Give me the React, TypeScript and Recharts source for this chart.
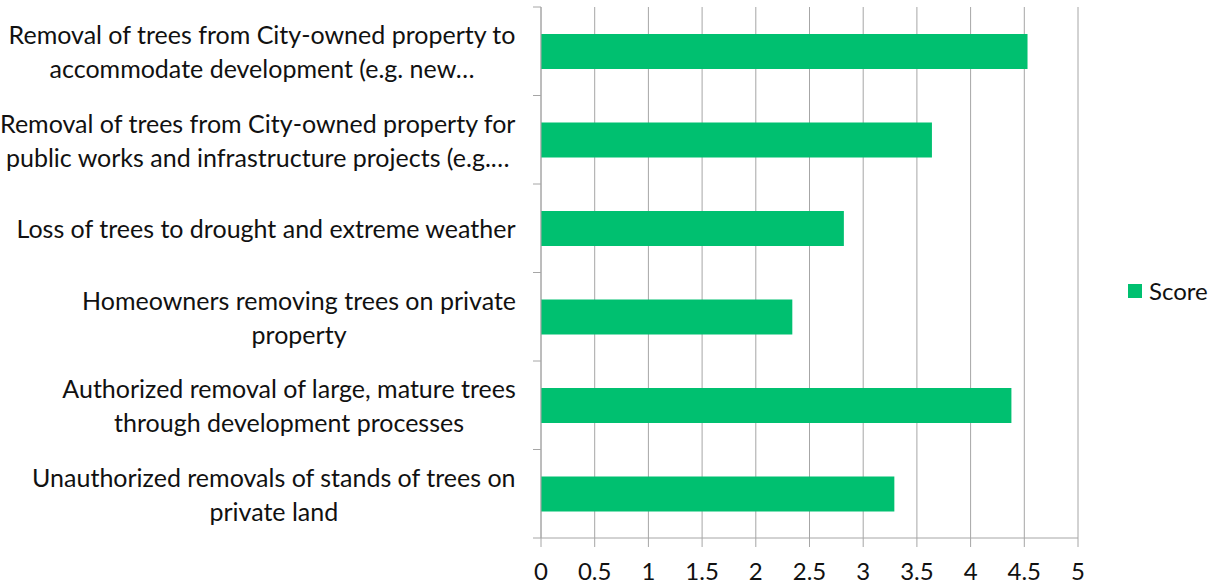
import { Bar, BarChart, CartesianGrid, XAxis, YAxis } from "recharts"

const categories = [
  "Removal of trees from City-owned property to\naccommodate development (e.g. new…",
  "Removal of trees from City-owned property for\npublic works and infrastructure projects (e.g.…",
  "Loss of trees to drought and extreme weather",
  "Homeowners removing trees on private\nproperty",
  "Authorized removal of large, mature trees\nthrough development processes",
  "Unauthorized removals of stands of trees on\nprivate land",
]
const scores = [4.53, 3.64, 2.82, 2.34, 4.38, 3.29]
const xTicks = [0, 0.5, 1, 1.5, 2, 2.5, 3, 3.5, 4, 4.5, 5]
const seriesName = "Score"

const data = categories.map((label, i) => ({ label, score: scores[i] }))

const W = 1217
const H = 586
const M = { top: 7, right: 139, bottom: 0, left: 0 }
const AXIS_W = 541
const XAXIS_H = 48
const FONT = "Lato, 'Open Sans', sans-serif"
const LABEL_SIZE = 25
const TICK_SIZE = 24
const LINE_H = 34
const GRID = "#a6a6a6"
const GREEN = "#00c070"
const INK = "#111"

const band = (H - M.top - XAXIS_H) / categories.length

let ctx: CanvasRenderingContext2D | null = null
function textWidth(s: string) {
  if (!ctx) ctx = document.createElement("canvas").getContext("2d")
  if (!ctx) return s.length * LABEL_SIZE * 0.5
  ctx.font = `${LABEL_SIZE}px Lato`
  return ctx.measureText(s).width
}

function CategoryTick(props: any) {
  const { x, y, payload, index } = props
  const lines: string[] = String(payload.value).split("\n")
  const blockW = Math.max(...lines.map(textWidth))
  const cx = x - blockW / 2
  const startY = y - ((lines.length - 1) * LINE_H) / 2
  const axisX = x + 25
  return (
    <g>
      <line x1={axisX - 8} x2={axisX} y1={y - band / 2} y2={y - band / 2} stroke={GRID} />
      {index === categories.length - 1 ? (
        <line x1={axisX - 8} x2={axisX} y1={y + band / 2} y2={y + band / 2} stroke={GRID} />
      ) : null}
      <text x={cx} y={startY} textAnchor="middle" dominantBaseline="central" fontSize={LABEL_SIZE} fill={INK} fontFamily={FONT}>
        {lines.map((ln, i) => (
          <tspan key={i} x={cx} y={startY + i * LINE_H}>
            {ln}
          </tspan>
        ))}
      </text>
    </g>
  )
}

function LegendBox() {
  return (
    <div
      style={{
        position: "absolute",
        left: 1128,
        top: 276,
        display: "flex",
        alignItems: "center",
        fontFamily: FONT,
        fontSize: TICK_SIZE,
        color: INK,
        whiteSpace: "nowrap",
      }}
    >
      <span style={{ width: 14, height: 14, background: GREEN, display: "inline-block", marginRight: 7 }} />
      {seriesName}
    </div>
  )
}

export default function App() {
  return (
    <div style={{ position: "absolute", left: 0, top: 0, width: W, height: H, background: "#fff" }}>
      <BarChart width={W} height={H} data={data} layout="vertical" margin={M}>
        <CartesianGrid horizontal={false} stroke={GRID} />
        <XAxis
          type="number"
          domain={[0, 5]}
          ticks={xTicks}
          interval={0}
          tickSize={9}
          tickMargin={16}
          height={XAXIS_H}
          axisLine={{ stroke: GRID }}
          tickLine={{ stroke: GRID }}
          tick={{ fontSize: TICK_SIZE, fill: INK, fontFamily: FONT }}
        />
        <YAxis
          type="category"
          dataKey="label"
          width={AXIS_W}
          tickSize={8}
          tickMargin={17}
          tickLine={false}
          interval={0}
          axisLine={{ stroke: GRID }}
          tick={<CategoryTick />}
        />
        <Bar dataKey="score" name={seriesName} fill={GREEN} barSize={35} isAnimationActive={false} />
      </BarChart>
      <LegendBox />
    </div>
  )
}
